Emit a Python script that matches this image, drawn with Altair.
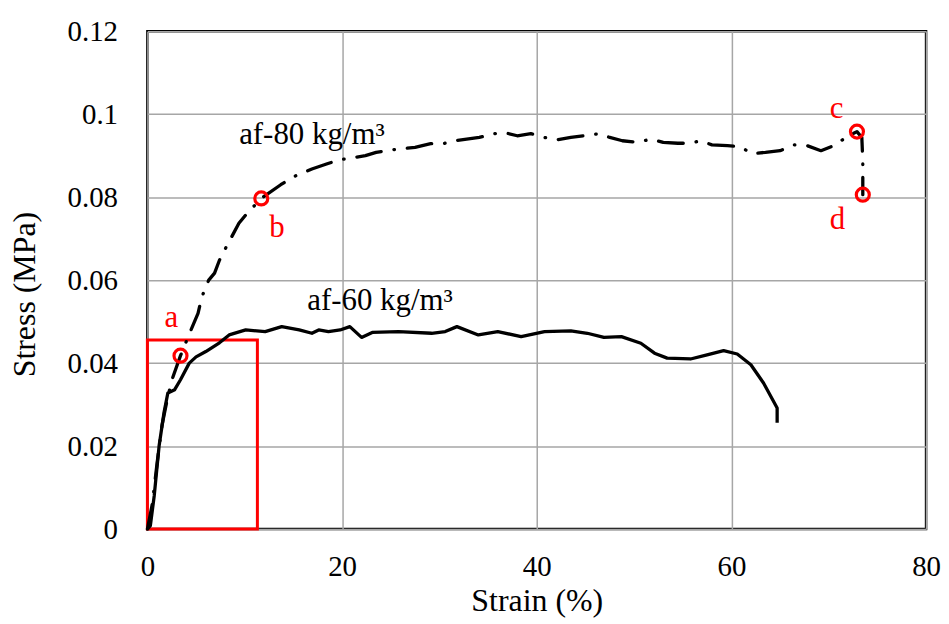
import altair as alt
import pandas as pd

# ---- data ----
af60_strain = [0, 0.3, 0.7, 1.2, 1.7, 2.1, 2.8, 3.4, 4.3, 5.0, 6.0, 7.4, 8.4, 10.1, 12.1, 13.8,
               15.6, 16.9, 17.6, 18.6, 19.8, 20.8, 22.0, 23.1, 25.8, 29.2, 30.6, 31.8, 34.0,
               36.0, 38.4, 40.8, 43.5, 45.2, 46.9, 48.7, 50.7, 52.1, 53.4, 55.8, 57.5, 59.2,
               60.6, 62.0, 63.3, 64.7, 64.7]
af60_stress = [0, 0.0008, 0.008, 0.020, 0.028, 0.0328, 0.0336, 0.036, 0.040, 0.0415, 0.0428,
               0.0449, 0.0468, 0.048, 0.0476, 0.0488, 0.048, 0.0472, 0.048, 0.0476, 0.048,
               0.0488, 0.0462, 0.0474, 0.0476, 0.0472, 0.0476, 0.0488, 0.0468, 0.0476, 0.0464,
               0.0476, 0.0478, 0.0472, 0.0462, 0.0464, 0.0448, 0.0424, 0.0412, 0.041, 0.042,
               0.043, 0.0422, 0.0396, 0.0352, 0.0292, 0.0256]

af80_strain = [0, 0.5, 1.0, 1.5, 2.1, 2.6, 3.4, 4.3, 5.2, 5.6, 6.3, 6.9, 7.4, 8.1, 9.4, 10.2,
               11.7, 13.7, 14.9, 16.9, 18.4, 19.7, 22.4, 23.5, 25.1, 27.5, 29.1, 30.4, 31.5,
               32.8, 34.1, 35.7, 36.8, 38.0, 39.4, 40.8, 42.0, 43.5, 44.9, 46.4, 47.5, 48.8,
               50.4, 51.7, 53.0, 54.5, 55.8, 56.8, 58.0, 59.6, 60.9, 62.1, 63.5, 65.0, 66.4,
               67.8, 69.2, 70.5, 71.9, 72.9, 73.4, 73.5, 73.5, 73.5]
af80_stress = [0, 0.006, 0.016, 0.025, 0.032, 0.0365, 0.0418, 0.047, 0.052, 0.056, 0.060,
               0.0617, 0.0648, 0.068, 0.0737, 0.076, 0.0797, 0.083, 0.0848, 0.0868, 0.088,
               0.089, 0.090, 0.0908, 0.0914, 0.092, 0.0929, 0.0929, 0.0936, 0.094, 0.0944,
               0.0953, 0.0955, 0.0948, 0.0953, 0.0944, 0.0938, 0.0944, 0.0948, 0.0953, 0.0944,
               0.0936, 0.0932, 0.094, 0.0932, 0.093, 0.093, 0.0936, 0.0926, 0.0924, 0.0922,
               0.0905, 0.0908, 0.0912, 0.0926, 0.0924, 0.0912, 0.0924, 0.0946, 0.0958, 0.0944,
               0.0888, 0.085, 0.0806]

marker_names = ["a", "b", "c", "d"]
marker_strain = [3.4, 11.7, 72.9, 73.5]
marker_stress = [0.0418, 0.0797, 0.0958, 0.0806]
marker_label_strain = [2.45, 13.3, 70.8, 70.9]
marker_label_stress = [0.0509, 0.0725, 0.1013, 0.0744]

series_labels = ["af-80 kg/m³", "af-60 kg/m³"]
series_label_strain = [16.9, 23.9]
series_label_stress = [0.0950, 0.0550]

box_strain = [0, 11.3]
box_stress = [0, 0.0456]

x_ticks = [0, 20, 40, 60, 80]
y_ticks = [0, 0.02, 0.04, 0.06, 0.08, 0.10, 0.12]

FONT = "Liberation Serif"

# ---- tables ----
df60 = pd.DataFrame({"strain": af60_strain, "stress": af60_stress, "i": range(len(af60_strain))})
df80 = pd.DataFrame({"strain": af80_strain, "stress": af80_stress, "i": range(len(af80_strain))})
dfm = pd.DataFrame({"name": marker_names, "strain": marker_strain, "stress": marker_stress,
                    "lx": marker_label_strain, "ly": marker_label_stress})
dfs = pd.DataFrame({"label": series_labels, "strain": series_label_strain, "stress": series_label_stress})
dfb = pd.DataFrame({"x": [box_strain[0]], "x2": [box_strain[1]], "y": [box_stress[0]], "y2": [box_stress[1]]})

xscale = alt.Scale(domain=[0, 80], nice=False, zero=False)
yscale = alt.Scale(domain=[0, 0.12], nice=False)

xenc = alt.X("strain:Q", scale=xscale,
             axis=alt.Axis(values=x_ticks, title="Strain (%)", format="~g"))
yenc = alt.Y("stress:Q", scale=yscale,
             axis=alt.Axis(values=y_ticks, title="Stress (MPa)", format="~g",
                           titleX=-106, titleY=264))

line60 = alt.Chart(df60).mark_line(color="black", strokeWidth=3.3, strokeJoin="round").encode(
    x=xenc, y=yenc, order="i:Q")

line80 = alt.Chart(df80).mark_line(color="black", strokeWidth=3.3, strokeCap="round",
                                   strokeJoin="round", strokeDash=[25, 13, 0.5, 13]).encode(
    x="strain:Q", y="stress:Q", order="i:Q")

box = alt.Chart(dfb).mark_rect(fillOpacity=0, stroke="#ff0000", strokeWidth=3).encode(
    x="x:Q", x2="x2:Q", y="y:Q", y2="y2:Q")

circles = alt.Chart(dfm).mark_point(shape="circle", filled=False, color="#ff0000",
                                    strokeWidth=3.2, size=170, opacity=1).encode(
    x="strain:Q", y="stress:Q")

mlabels = alt.Chart(dfm).mark_text(font=FONT, fontSize=31, color="#ff0000",
                                   baseline="middle", align="center").encode(
    x="lx:Q", y="ly:Q", text="name:N")

slabels = alt.Chart(dfs).mark_text(font=FONT, fontSize=31, color="black",
                                   baseline="middle", align="center").encode(
    x="strain:Q", y="stress:Q", text="label:N")

chart = alt.layer(box, line60, line80, circles, mlabels, slabels).properties(
    width=782, height=500,
    autosize=alt.AutoSizeParams(type="none"),
    padding={"left": 140, "top": 22, "right": 15, "bottom": 94},
).configure_view(
    stroke="black", strokeWidth=2.5
).configure_axis(
    labelFont=FONT, labelFontSize=29, labelColor="black",
    titleFont=FONT, titleFontSize=32, titleFontWeight="normal", titleColor="black",
    grid=True, gridColor="#a6a6a6", gridWidth=1.5,
    domain=False, ticks=False, labelFlush=False, labelOverlap=False,
).configure_axisX(
    labelPadding=24, titlePadding=4
).configure_axisY(
    labelPadding=30
)

chart.save("out.html", embed_options={"renderer": "svg", "actions": False})
